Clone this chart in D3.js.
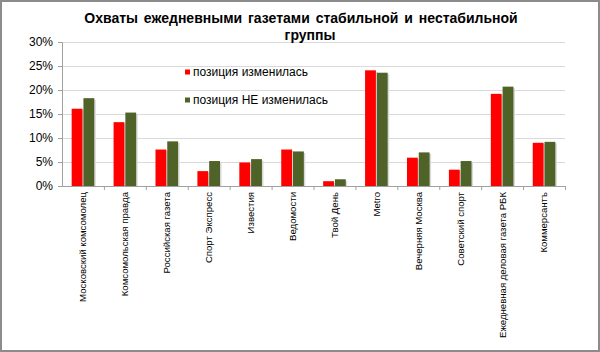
<!DOCTYPE html>
<html>
<head>
<meta charset="utf-8">
<script src="https://cdn.jsdelivr.net/npm/d3@7"></script>
<style>
  body { margin: 0; background: #fff; }
  svg { display: block; font-family: Arial, "Liberation Sans", sans-serif; }
</style>
</head>
<body>
<svg width="600" height="352"></svg>
<script>
(function (d3) {
    'use strict';

    const categories = [
      'Московский комсомолец', 'Комсомольская правда', 'Российская газета',
      'Спорт Экспресс', 'Известия', 'Ведомости', 'Твой День', 'Metro',
      'Вечерняя Москва', 'Советский спорт', 'Ежедневная деловая газета РБК',
      'Коммерсантъ'
    ];
    const changed = [16.1, 13.3, 7.6, 3.1, 4.9, 7.6, 1.0, 24.1, 5.9, 3.4, 19.2, 9.0];
    const unchanged = [18.3, 15.3, 9.3, 5.2, 5.6, 7.2, 1.4, 23.6, 7.0, 5.2, 20.7, 9.2];
    const seriesNames = ['позиция изменилась', 'позиция НЕ изменилась'];
    const yTicks = [0, 5, 10, 15, 20, 25, 30];

    const colors = ['#ff0000', '#4f6228'];
    const series = [changed, unchanged];

    const svg = d3.select('svg');
    const width = +svg.attr('width');
    const height = +svg.attr('height');

    // frame
    svg.append('rect')
        .attr('x', 1).attr('y', 1)
        .attr('width', width - 2).attr('height', height - 2)
        .attr('fill', '#fff')
        .attr('stroke', '#8c8c8c')
        .attr('stroke-width', 2);

    const margin = { top: 42, left: 62, right: 35, bottom: 166 };
    const innerWidth = width - margin.left - margin.right;
    const innerHeight = height - margin.top - margin.bottom;

    const g = svg.append('g')
        .attr('transform', `translate(${margin.left},${margin.top})`);

    const xScale = d3.scaleBand()
        .domain(categories)
        .range([0, innerWidth]);

    const yScale = d3.scaleLinear()
        .domain([0, 30])
        .range([innerHeight, 0]);

    const subScale = d3.scaleBand()
        .domain([0, 1])
        .range([-11.3, 11.3])
        .paddingInner(0.08);

    // grid
    g.append('g')
        .selectAll('line')
        .data(yTicks.slice(1))
      .enter().append('line')
        .attr('x1', 0).attr('x2', innerWidth)
        .attr('y1', d => yScale(d) + 0.5).attr('y2', d => yScale(d) + 0.5)
        .attr('stroke', '#dadada');

    // y axis
    const yAxis = d3.axisLeft(yScale)
        .tickValues(yTicks)
        .tickSize(4)
        .tickPadding(5)
        .tickFormat(d => d + '%');
    const yAxisG = g.append('g').call(yAxis);
    yAxisG.select('.domain').attr('stroke', '#a0a0a0');
    yAxisG.selectAll('.tick line').attr('stroke', '#a0a0a0');
    yAxisG.selectAll('.tick text')
        .attr('font-size', 12)
        .attr('fill', '#000');

    // bars
    series.forEach((vals, si) => {
      const bars = g.append('g')
          .selectAll('g')
          .data(vals.map((v, i) => ({ cat: categories[i], v })))
        .enter().append('g');
      bars.append('rect')
          .attr('x', d => xScale(d.cat) + xScale.bandwidth() / 2 + subScale(si) + 1.5)
          .attr('y', d => yScale(d.v) + 1.5)
          .attr('width', subScale.bandwidth())
          .attr('height', d => innerHeight - yScale(d.v) - 1.5)
          .attr('fill', '#d8d8d8');
      bars.append('rect')
          .attr('x', d => xScale(d.cat) + xScale.bandwidth() / 2 + subScale(si))
          .attr('y', d => yScale(d.v))
          .attr('width', subScale.bandwidth())
          .attr('height', d => innerHeight - yScale(d.v))
          .attr('fill', colors[si]);
    });

    // x axis
    const xAxis = d3.axisBottom(xScale)
        .tickSize(0)
        .tickFormat(d => d);
    const xAxisG = g.append('g')
        .attr('transform', `translate(0,${innerHeight})`)
        .call(xAxis);
    xAxisG.select('.domain').attr('stroke', '#a0a0a0');
    xAxisG.selectAll('.tick text')
        .attr('font-size', 9.6)
        .attr('fill', '#000')
        .attr('text-anchor', 'end')
        .attr('transform', 'rotate(-90)')
        .attr('x', -6)
        .attr('y', 0)
        .attr('dy', '0.35em');

    // category separators
    g.append('g')
        .selectAll('line')
        .data(categories.slice(1).concat(['__end']))
      .enter().append('line')
        .attr('x1', (d, i) => (i + 1) * xScale.step() + 0.5)
        .attr('x2', (d, i) => (i + 1) * xScale.step() + 0.5)
        .attr('y1', innerHeight)
        .attr('y2', innerHeight + 4)
        .attr('stroke', '#a0a0a0');

    // legend
    const legend = svg.append('g');
    seriesNames.forEach((name, i) => {
      const ly = 72 + i * 28;
      legend.append('rect')
          .attr('x', 185).attr('y', ly - 2.5)
          .attr('width', 5).attr('height', 5)
          .attr('fill', colors[i]);
      legend.append('text')
          .attr('x', 193).attr('y', ly)
          .attr('dy', '0.35em')
          .attr('font-size', 12)
          .text(name);
    });

    // title
    const title = svg.append('text')
        .attr('x', 301)
        .attr('text-anchor', 'middle')
        .attr('font-size', 14)
        .attr('font-weight', 'bold')
        .attr('word-spacing', 2);
    title.append('tspan')
        .attr('x', 301).attr('y', 23)
        .text('Охваты ежедневными газетами стабильной и нестабильной');
    title.append('tspan')
        .attr('x', 310).attr('y', 40)
        .text('группы');

  }(d3));
</script>
</body>
</html>
